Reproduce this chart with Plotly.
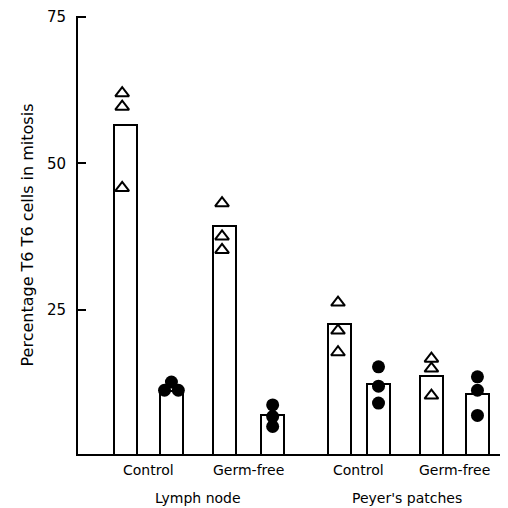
import plotly.graph_objects as go

# Mean percentage of T6 T6 cells in mitosis (bar heights)
bar_pos = [1, 2, 3.15, 4.2, 5.65, 6.5, 7.65, 8.65]
bar_means = [56.6, 11.0, 39.3, 6.9, 22.6, 12.2, 13.6, 10.5]
bar_marker = ["tri", "dot", "tri", "dot", "tri", "dot", "tri", "dot"]

# Individual animal values for each bar
points = [
    [62.0, 59.7, 45.8],
    [12.6, 11.2, 11.2],
    [43.2, 37.5, 35.2],
    [8.7, 6.7, 5.0],
    [26.2, 21.4, 17.7],
    [15.2, 11.9, 9.0],
    [16.6, 14.9, 10.3],
    [13.5, 11.2, 6.9],
]
# small horizontal spread so overlapping dots stay visible
point_shift = [
    [-0.07, -0.07, -0.07],
    [0, -0.15, 0.15],
    [-0.05, -0.05, -0.05],
    [0, 0, 0],
    [-0.03, -0.03, -0.03],
    [0, 0, 0],
    [0, 0, 0],
    [0, 0, 0],
]

group_labels = ["Control", "Germ-free", "Control", "Germ-free"]
tissue_labels = ["Lymph node", "Peyer's patches"]
y_ticks = [25, 50, 75]

FONT = "DejaVu Sans"

fig = go.Figure()
fig.add_trace(go.Bar(
    x=bar_pos, y=bar_means, width=0.49,
    marker=dict(color="white", line=dict(color="black", width=2)),
    showlegend=False, hoverinfo="skip",
))

tri_x, tri_y, dot_x, dot_y = [], [], [], []
for p, kind, vals, shifts in zip(bar_pos, bar_marker, points, point_shift):
    for v, s in zip(vals, shifts):
        if kind == "tri":
            tri_x.append(p + s)
            tri_y.append(v)
        else:
            dot_x.append(p + s)
            dot_y.append(v)

fig.add_trace(go.Scatter(
    x=tri_x, y=tri_y, mode="markers", showlegend=False,
    marker=dict(symbol="triangle-up-open", size=12, color="black",
                line=dict(color="black", width=2)),
))
fig.add_trace(go.Scatter(
    x=dot_x, y=dot_y, mode="markers", showlegend=False,
    marker=dict(symbol="circle", size=13, color="black",
                line=dict(width=0)),
))

# Group / tissue labels below the axis
pairs = [(bar_pos[i], bar_pos[i + 1]) for i in range(0, 8, 2)]
mids = [(a + b) / 2 for a, b in pairs]
for m, lab in zip(mids, group_labels):
    fig.add_annotation(x=m, y=-0.036, xref="x", yref="paper", text=lab,
                       showarrow=False, xanchor="center", yanchor="middle",
                       font=dict(family=FONT, size=14, color="black"))
tissue_mids = [(mids[0] + mids[1]) / 2, (mids[2] + mids[3]) / 2]
for m, lab in zip(tissue_mids, tissue_labels):
    fig.add_annotation(x=m, y=-0.10, xref="x", yref="paper", text=lab,
                       showarrow=False, xanchor="center", yanchor="middle",
                       font=dict(family=FONT, size=14, color="black"))

fig.add_annotation(x=-0.122, y=0.5, xref="paper", yref="paper",
                   text="Percentage T6 T6 cells in mitosis", textangle=-90,
                   showarrow=False, xanchor="center", yanchor="middle",
                   font=dict(family=FONT, size=16, color="black"))

fig.update_layout(
    width=508, height=508,
    margin=dict(l=78, r=8, t=14, b=54),
    paper_bgcolor="white", plot_bgcolor="white",
    bargap=0,
    xaxis=dict(range=[-0.03, 9.14], showline=True, linecolor="black",
               linewidth=2, showticklabels=False, ticks="",
               showgrid=False, zeroline=False),
    yaxis=dict(range=[0.3, 75.2], showline=True, linecolor="black",
               linewidth=2, tickvals=y_ticks, ticks="inside", ticklen=8,
               tickwidth=2, tickcolor="black", showgrid=False,
               zeroline=False, ticklabelstandoff=7,
               tickfont=dict(family=FONT, size=15, color="black")),
)

fig.write_html("out.html")
